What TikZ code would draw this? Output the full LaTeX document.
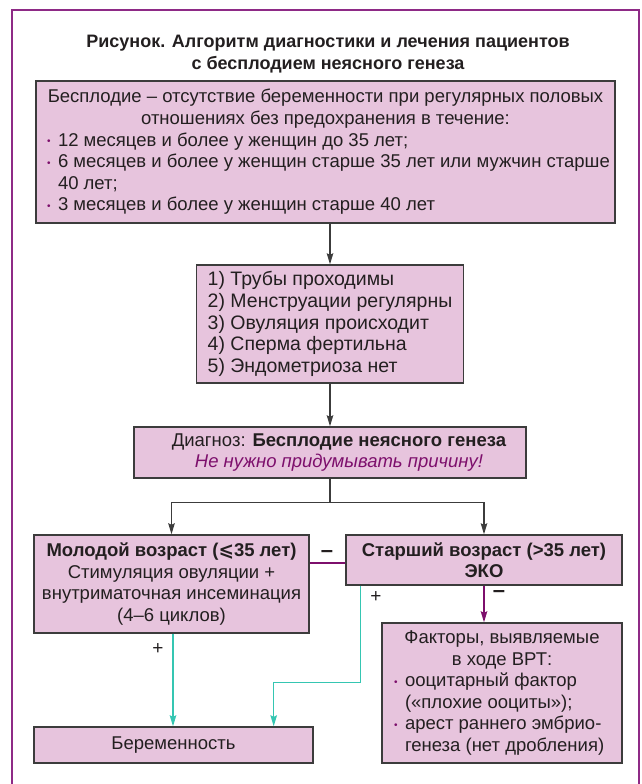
\documentclass[tikz,border=0pt]{standalone}
\usepackage{fontspec}
\setmainfont{Liberation Sans}
\newfontfamily\symfont{DejaVu Sans}
\usetikzlibrary{arrows.meta}

\definecolor{boxfill}{HTML}{E7C4DD}
\definecolor{boxline}{HTML}{3C3C3C}
\definecolor{framecol}{HTML}{8E2A86}
\definecolor{plusline}{HTML}{35C6B2}
\definecolor{minusline}{HTML}{7D0F6C}
\definecolor{inkcol}{HTML}{231F20}

\newcommand{\bodyfont}{\fontsize{18.5}{21.6}\selectfont}
\newcommand{\bul}{\makebox[11pt][l]{\raisebox{1.5pt}{\textcolor{minusline}{\fontsize{10}{10}\selectfont •}}}}
\newcommand{\lline}[2]{\makebox[#1][l]{#2}}

\begin{document}
\begin{tikzpicture}[x=1pt, y=-1pt, line join=miter,
  box/.style={draw=boxline, fill=boxfill, line width=1.4pt, inner sep=0pt,
    text=inkcol, font=\bodyfont, align=center},
  link/.style={draw=boxline, line width=1.2pt},
  arr/.style={link, -{Stealth[length=11pt, width=6.5pt, inset=1.5pt]}},
  plusarr/.style={arr, draw=plusline, line width=1.4pt},
  minuslink/.style={draw=minusline, line width=1.4pt},
  minusarr/.style={arr, draw=minusline, line width=1.4pt},
  sign/.style={inner sep=0pt, text=inkcol, font=\fontsize{19}{19}\selectfont}]

  %% ════ 外框 ════
  \draw[framecol, line width=1.5pt] (12,784) -- (12,10) -- (639,10) -- (639,784);

  %% ════ 标题 ════
  \node[align=center, inner sep=0pt, text=inkcol, font=\fontsize{18}{22}\selectfont\bfseries] (title) at (328,54)
    {Рисунок. Алгоритм диагностики и лечения пациентов\\с бесплодием неясного генеза};

  %% ════ 方框 ════
  \node[box, minimum width=579pt, minimum height=142pt] (defn) at (325.5,152)
    {Бесплодие – отсутствие беременности при регулярных половых\\
     отношениях без предохранения в течение:\\
     \lline{557pt}{\bul 12 месяцев и более у женщин до 35 лет;}\\
     \lline{557pt}{\bul 6 месяцев и более у женщин старше 35 лет или мужчин старше}\\
     \lline{557pt}{\hspace*{11pt}40 лет;}\\
     \lline{557pt}{\bul 3 месяцев и более у женщин старше 40 лет}};
  \node[box, align=left, font=\fontsize{19.5}{21.7}\selectfont, minimum width=267pt, minimum height=118pt] (crit) at (330,324)
    {1) Трубы проходимы\\2) Менструации регулярны\\3) Овуляция происходит\\4) Сперма фертильна\\5) Эндометриоза нет};
  \node[box, minimum width=392pt, minimum height=51pt] (diag) at (330,452.5)
    {\hspace*{18pt}Диагноз: \textbf{Бесплодие неясного генеза}\\
     \hspace*{18pt}\textcolor{minusline}{\itshape Не нужно придумывать причину!}};
  \node[box, minimum width=275pt, minimum height=98pt] (young) at (171.5,584)
    {\textbf{Молодой возраст ({\symfont\bfseries ⩽}35 лет)}\\Стимуляция овуляции +\\внутриматочная инсеминация\\(4–6 циклов)};
  \node[box, minimum width=276pt, minimum height=50pt] (old) at (484,560)
    {\textbf{Старший возраст (>35 лет)}\\\textbf{ЭКО}};
  \node[box, minimum width=240pt, minimum height=140pt] (fact) at (502,693)
    {Факторы, выявляемые\\в ходе ВРТ:\\
     \lline{216pt}{\bul ооцитарный фактор}\\
     \lline{216pt}{\hspace*{11pt}(«плохие ооциты»);}\\
     \lline{216pt}{\bul арест раннего эмбрио-}\\
     \lline{216pt}{\hspace*{11pt}генеза (нет дробления)}};
  \node[box, minimum width=279pt, minimum height=36pt] (preg) at (173.5,745) {Беременность};

  %% ════ 连线 ════
  \draw[arr] (crit.north |- defn.south) -- (crit.north);
  \draw[arr] (crit.south -| diag.north) -- (diag.north);
  \draw[link] (diag.south) -- ++(0,24) coordinate (split);
  \draw[arr] (split) -| (young.north);
  \draw[arr] (split) -| (old.north);
  \draw[minuslink] ([yshift=-3pt]old.west) -- ([yshift=-3pt]old.west -| young.east);
  \draw[minusarr] (old.south) -- (old.south |- fact.north);
  \draw[plusarr] ([xshift=1.5pt]young.south) -- ([xshift=1.5pt]young.south |- preg.north);
  \draw[plusarr] ([xshift=15pt]old.south west) -- ++(0,97) -| ([xshift=-40pt]preg.north east);

  %% ════ 符号 ════
  \node[sign, font=\fontsize{22}{22}\selectfont\bfseries] (m1) at (327,554) {–};
  \node[sign, font=\fontsize{22}{22}\selectfont\bfseries] (m2) at (499,594) {–};
  \node[sign] (p1) at (158,649) {+};
  \node[sign] (p2) at (376,597) {+};

  \pgfresetboundingbox
  \path[use as bounding box] (0,0) rectangle (642,784);
\end{tikzpicture}
\end{document}
